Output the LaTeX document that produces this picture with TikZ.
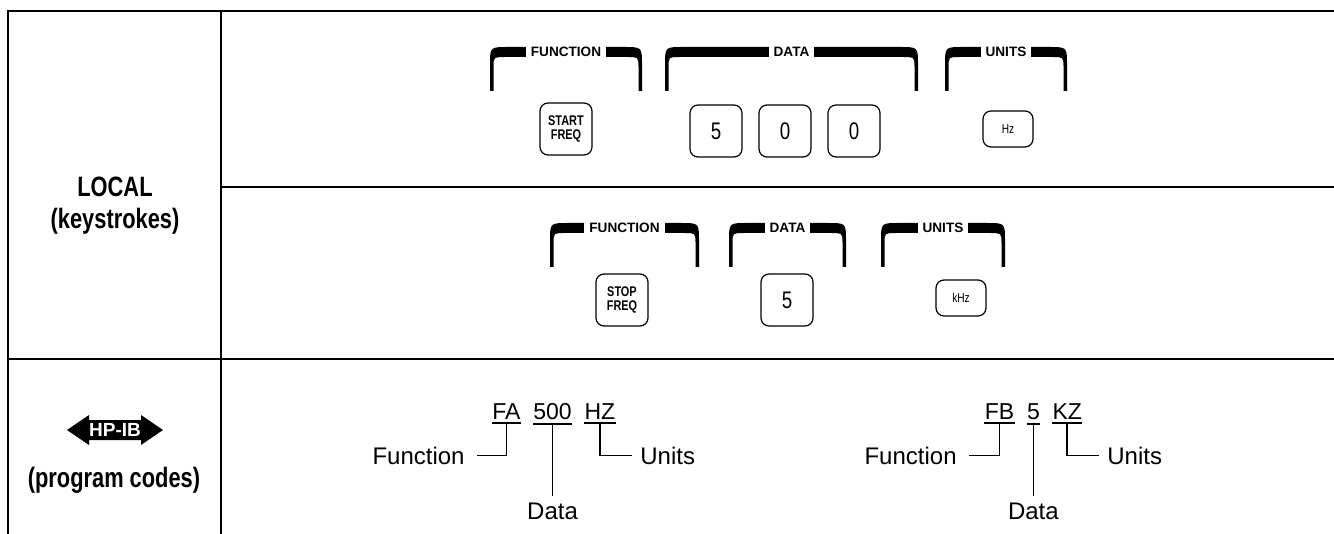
\documentclass[tikz,border=0pt]{standalone}
\usepackage{fontspec}
\setmainfont{Liberation Sans}
\newfontfamily\condfont[FakeStretch=0.78]{Liberation Sans}
\usetikzlibrary{positioning, calc}

% parentesi con etichetta: nome, x sinistra, x destra, y barra, y fondo, testo
\newcommand{\keybracket}[6]{%
  \fill (#2,#5) -- (#2,{#4+18}) .. controls (#2,#4) .. ({#2+18},#4)
    -- ({#3-18},#4) .. controls (#3,#4) .. (#3,{#4+18}) -- (#3,#5)
    -- ({#3-3.5},#5) -- ({#3-3.5},{#4+20}) .. controls ({#3-3.5},{#4+10}) .. ({#3-15},{#4+10})
    -- ({#2+15},{#4+10}) .. controls ({#2+3.5},{#4+10}) .. ({#2+3.5},{#4+20})
    -- ({#2+3.5},#5) -- cycle;
  \node[brlabel] (#1) at ({(#2+#3)/2},{#4+5}) {#6};
}

\begin{document}
\begin{tikzpicture}[x=0.5pt, y=-0.5pt,
    frame/.style={line width=1.2pt},
    key/.style={draw, line width=0.6pt, rounded corners=4pt, minimum width=26pt, minimum height=26pt,
      inner sep=0pt, align=center, font=\condfont\fontsize{12}{12}\selectfont},
    fkey/.style={key, font=\condfont\bfseries\fontsize{7}{7}\selectfont},
    ukey/.style={key, minimum width=25pt, minimum height=18pt, font=\condfont\fontsize{6.5}{6.5}\selectfont},
    brlabel/.style={fill=white, inner xsep=2.5pt, inner ysep=2pt, font=\bfseries\fontsize{6.8}{6.8}\selectfont},
    rowhead/.style={inner sep=0pt, font=\condfont\bfseries\fontsize{14}{16}\selectfont},
    code/.style={inner sep=0pt, font=\fontsize{11.5}{12}\selectfont},
    lbl/.style={inner sep=0pt, font=\fontsize{12}{14}\selectfont},
    uline/.style={line width=1pt},
    lead/.style={line width=0.8pt}]
    \useasboundingbox (0,0) rectangle (1334,534);

    % Griglia
    \draw[frame] (8,534) -- (8,11) -- (1334,11);
    \draw[frame] (221,11) -- (221,534);
    \draw[frame] (221,187) -- (1334,187);
    \draw[frame] (8,359) -- (1334,359);

    % Intestazioni di riga
    \node[rowhead, anchor=base] (local) at (115,197) {LOCAL};
    \node[rowhead, anchor=base] (keystr) at (115,229) {(keystrokes)};
    \fill (67,430) -- (89,415) -- (89,420) -- (141,420) -- (141,415) -- (163,430)
      -- (141,445) -- (141,440) -- (89,440) -- (89,445) -- cycle;
    \node[inner sep=0pt, text=white, font=\bfseries\fontsize{9.5}{9.5}\selectfont] (hpib) at (115,430) {HP-IB};
    \node[rowhead, anchor=base] (progcodes) at (114,487) {(program codes)};

    % Prima riga di tasti
    \keybracket{fnA}{490}{642}{47}{91}{FUNCTION}
    \keybracket{datA}{665}{918}{47}{91}{DATA}
    \keybracket{unA}{945}{1067}{47}{91}{UNITS}
    \node[fkey] (startfreq) at (566,129) {START\\FREQ};
    \node[key] (keyfive) at (716,131) {5};
    \node[key] (keyzeroA) at (785,131) {0};
    \node[key] (keyzeroB) at (854,131) {0};
    \node[ukey] (keyhz) at (1008,129) {Hz};

    % Seconda riga di tasti
    \keybracket{fnB}{550}{699}{223}{267}{FUNCTION}
    \keybracket{datB}{729}{846}{223}{267}{DATA}
    \keybracket{unB}{881}{1005}{223}{267}{UNITS}
    \node[fkey] (stopfreq) at (622,300) {STOP\\FREQ};
    \node[key] (keyfiveB) at (787,300) {5};
    \node[ukey] (keykhz) at (961,298) {kHz};

    % Codici di programma
    \node[code, anchor=base] (codeFA) at (506.5,419) {FA};
    \node[code, base right=6pt of codeFA] (code500) {500};
    \node[code, base right=6pt of code500] (codeHZ) {HZ};
    \node[code, anchor=base] (codeFB) at (999.5,419) {FB};
    \node[code, base right=6pt of codeFB] (codefive) {5};
    \node[code, base right=6pt of codefive] (codeKZ) {KZ};
    \foreach \n in {codeFA,code500,codeHZ,codeFB,codefive,codeKZ}
      \draw[uline] ([yshift=-2pt]\n.south west) -- ([yshift=-2pt]\n.south east);

    \node[lbl, anchor=base east] (funA) at (465,464) {Function};
    \node[lbl, anchor=base] (dataA) at (code500 |- 0,519) {Data};
    \node[lbl, anchor=base west] (unitsA) at (640,464) {Units};
    \draw[lead] ([xshift=6pt]funA.east) -| ([yshift=-2pt]codeFA.south);
    \draw[lead] ([yshift=-2pt]code500.south) -- ([yshift=3pt]dataA.north);
    \draw[lead] ([yshift=-2pt]codeHZ.south) |- ([xshift=-4pt]unitsA.west);

    \node[lbl, anchor=base east] (funB) at (957,464) {Function};
    \node[lbl, anchor=base] (dataB) at (codefive |- 0,519) {Data};
    \node[lbl, anchor=base west] (unitsB) at (1107,464) {Units};
    \draw[lead] ([xshift=6pt]funB.east) -| ([yshift=-2pt]codeFB.south);
    \draw[lead] ([yshift=-2pt]codefive.south) -- ([yshift=3pt]dataB.north);
    \draw[lead] ([yshift=-2pt]codeKZ.south) |- ([xshift=-4pt]unitsB.west);
\end{tikzpicture}
\end{document}
